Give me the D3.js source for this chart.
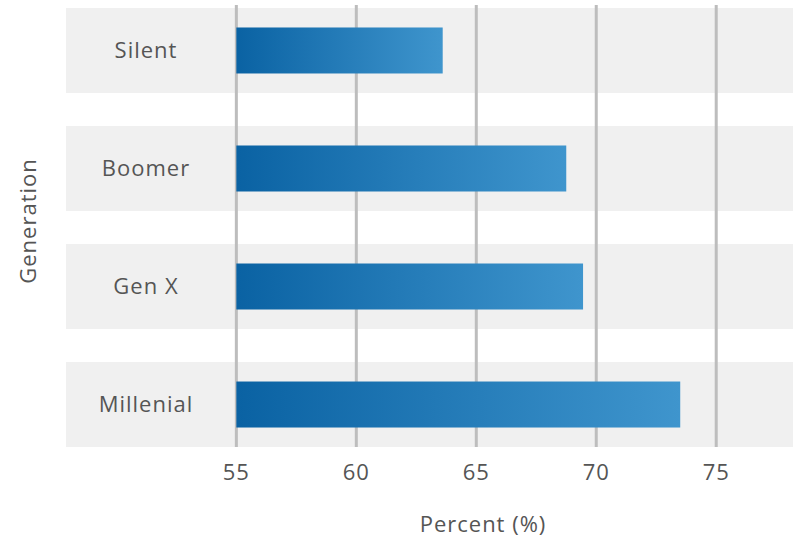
<!DOCTYPE html>
<html><head><meta charset="utf-8">
<script src="https://cdn.jsdelivr.net/npm/d3@7"></script>
<style>body{margin:0;background:#fff}svg{display:block}</style>
</head><body>
<script>
const categories = ["Silent", "Boomer", "Gen X", "Millenial"];
const values = [63.6, 68.75, 69.45, 73.5];
const ticks = [55, 60, 65, 70, 75];
const xTitle = "Percent (%)";
const yTitle = "Generation";
const baseValue = 55;

const W = 796, H = 540;
const svg = d3.select("body").append("svg").attr("width", W).attr("height", H);
const font = "'Open Sans', 'Noto Sans', sans-serif";
const ls = "1px";

const x = d3.scaleLinear().domain([47.9, 78.2]).range([66, 793]);
const y = d3.scaleBand().domain(categories).range([8, 447]).paddingInner(0.28).paddingOuter(0);

const defs = svg.append("defs");
const grad = defs.append("linearGradient").attr("id", "barGrad")
  .attr("x1", "0%").attr("x2", "100%").attr("y1", "0%").attr("y2", "0%");
grad.append("stop").attr("offset", "0%").attr("stop-color", "#0a62a3");
grad.append("stop").attr("offset", "100%").attr("stop-color", "#3f95cd");

// bands
svg.append("g").selectAll("rect").data(categories).join("rect")
  .attr("x", x.range()[0]).attr("width", x.range()[1] - x.range()[0])
  .attr("y", d => y(d)).attr("height", y.bandwidth())
  .attr("fill", "#f0f0f0");

// gridlines
svg.append("g").selectAll("line").data(ticks).join("line")
  .attr("x1", d => x(d)).attr("x2", d => x(d))
  .attr("y1", 5).attr("y2", 447)
  .attr("stroke", "#bdbdbd").attr("stroke-width", 3);

// bars
const barH = 46;
svg.append("g").selectAll("rect").data(categories).join("rect")
  .attr("x", x(baseValue))
  .attr("width", (d, i) => x(values[i]) - x(baseValue))
  .attr("y", d => y(d) + y.bandwidth() / 2 - barH / 2)
  .attr("height", barH)
  .attr("fill", "url(#barGrad)");

function txt(sel) {
  return sel.attr("font-family", font).attr("font-size", 22)
    .attr("letter-spacing", ls).attr("fill", "#555");
}

// category labels
svg.append("g").selectAll("text").data(categories).join("text")
  .attr("x", 146).attr("y", d => y(d) + y.bandwidth() / 2)
  .attr("dy", "0.35em").attr("text-anchor", "middle")
  .call(txt).text(d => d);

// tick labels
svg.append("g").selectAll("text").data(ticks).join("text")
  .attr("x", d => x(d)).attr("y", 472).attr("dy", "0.35em")
  .attr("text-anchor", "middle")
  .call(txt).text(d => d);

svg.append("text").attr("x", 483).attr("y", 524).attr("dy", "0.35em")
  .attr("text-anchor", "middle").call(txt).text(xTitle);

svg.append("text").attr("transform", "translate(28,221) rotate(-90)")
  .attr("dy", "0.35em").attr("text-anchor", "middle").call(txt).text(yTitle);
</script>
</body></html>
